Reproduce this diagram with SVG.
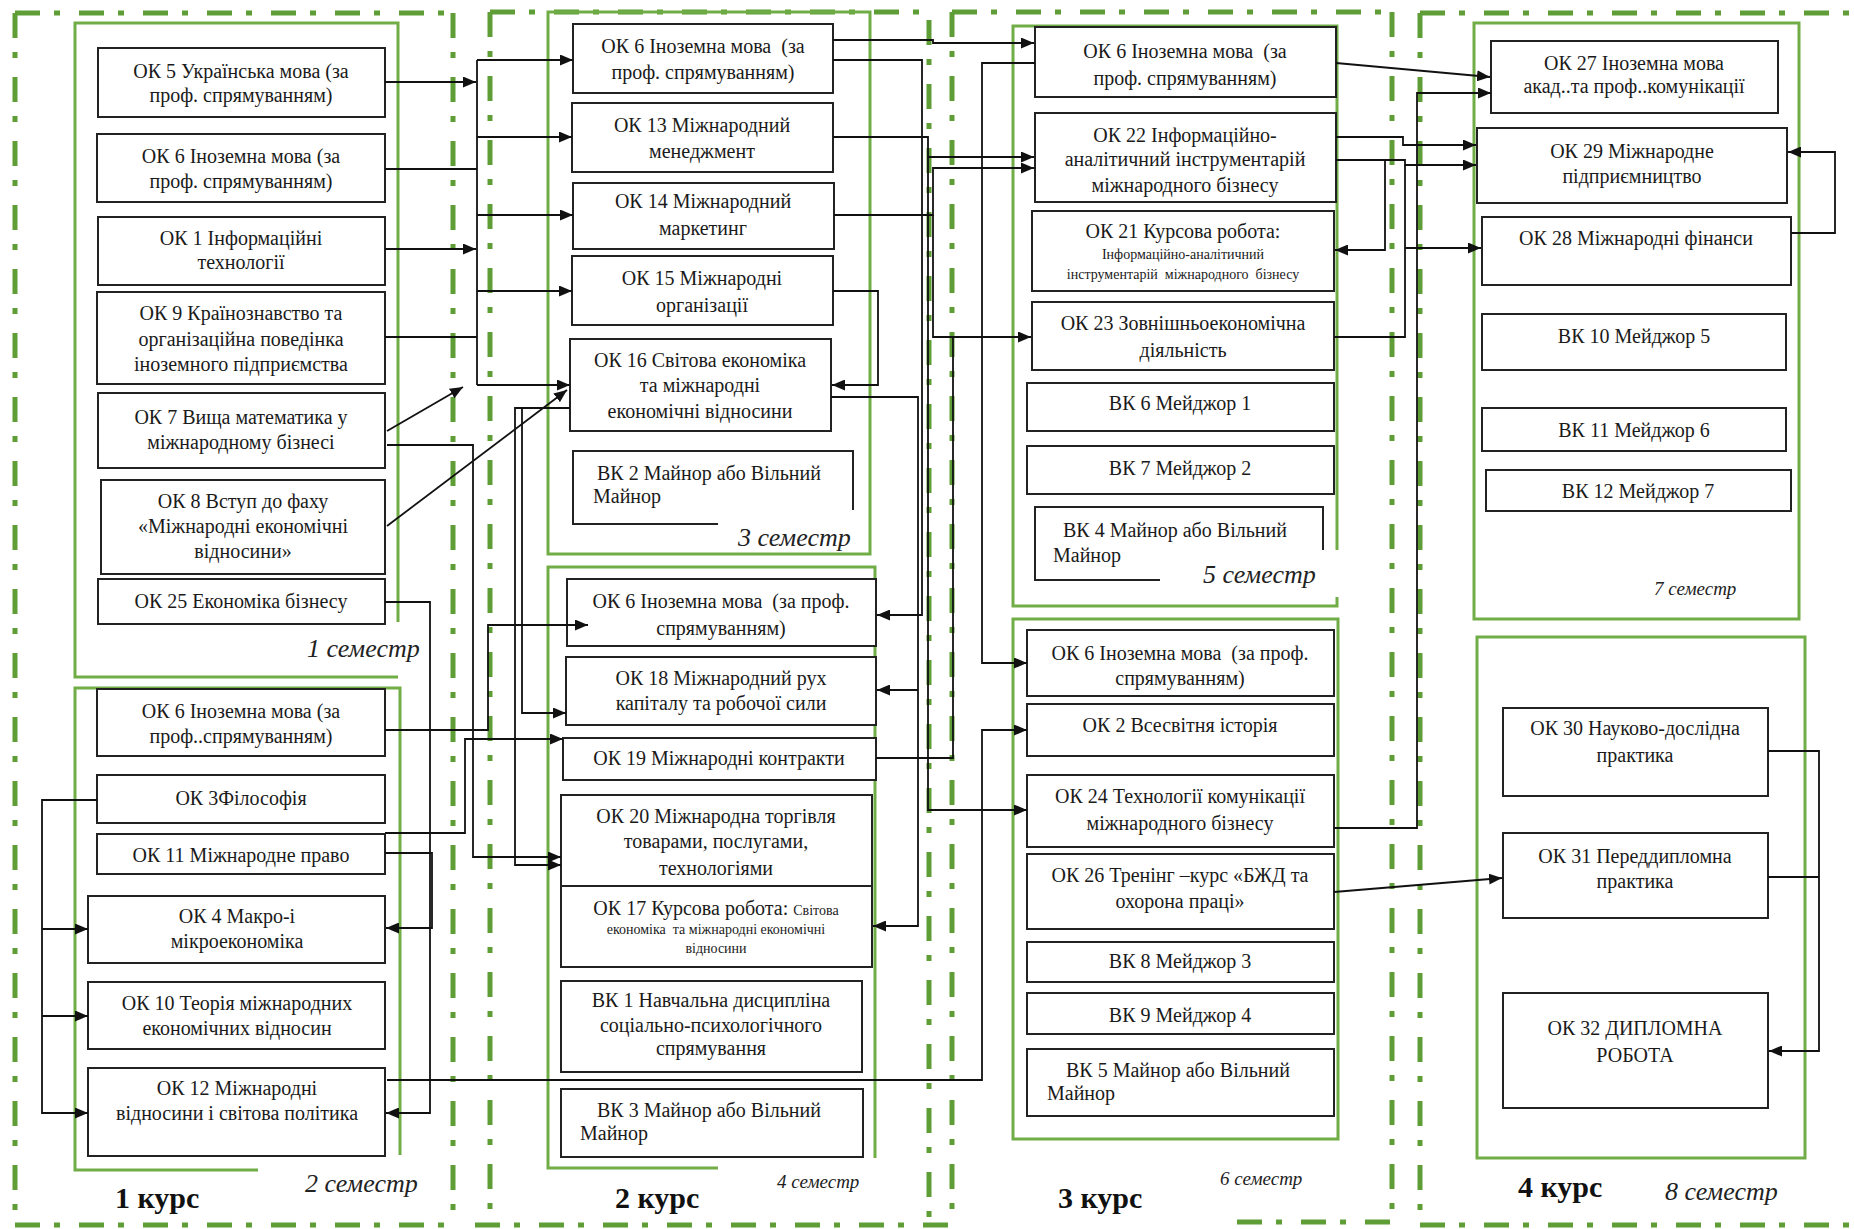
<svg xmlns="http://www.w3.org/2000/svg" width="1854" height="1229" viewBox="0 0 1854 1229">
<defs>
<style>
.dd{fill:none;stroke:#5f9e37;stroke-width:5;stroke-dasharray:25 14 6 19}
.sem{fill:none;stroke:#70ad47;stroke-width:3}
.n{fill:#fff;stroke:#222;stroke-width:2}
.np{fill:none;stroke:#222;stroke-width:2}
.t{font-family:"Liberation Serif","Times New Roman",serif;font-size:20px;fill:#1a1a1a;text-anchor:middle}
.ts{font-family:"Liberation Serif","Times New Roman",serif;font-size:20px;fill:#1a1a1a}
.sm{font-size:14px}
.lab{font-family:"Liberation Serif","Times New Roman",serif;font-style:italic;fill:#222}
.kurs{font-family:"Liberation Serif","Times New Roman",serif;font-weight:bold;font-size:30px;fill:#111}
.c{fill:none;stroke:#111;stroke-width:1.8}
.a{marker-end:url(#ah)}
</style>
<marker id="ah" viewBox="0 0 10 10" refX="10" refY="5" markerWidth="13" markerHeight="11" markerUnits="userSpaceOnUse" orient="auto" preserveAspectRatio="none"><path d="M0,0 L10,5 L0,10 z" fill="#111"/></marker>
</defs>
<rect width="1854" height="1229" fill="#fff"/>

<g id="courses">
<path class="dd" d="M15,13 H453 M15,13 V1225 M453,13 V1225 M15,1225 H460"/>
<path class="dd" d="M490,12 H928 M490,12 V1225 M929,20 V1225 M475,1225 H960"/>
<path class="dd" d="M952,12 H1392 M952,12 V1222 M1392,12 V1222 M1237,1222 H1392"/>
<path class="dd" d="M1420,13 H1854 M1420,13 V1225 M1420,1225 H1854"/>
</g>

<g id="semesters">
<path class="sem" d="M398,622 V23 H75 V677 H398"/>
<path class="sem" d="M400,1155 V688 H75 V1170 H258"/>
<rect class="sem" x="548" y="12" width="322" height="542"/>
<path class="sem" d="M875,1158 V567 H548 V1168 H718"/>
<path class="sem" d="M1337,550 V26 H1013 V606 H1337 V597"/>
<rect class="sem" x="1013" y="619" width="325" height="520"/>
<rect class="sem" x="1474" y="23" width="325" height="596"/>
<rect class="sem" x="1477" y="637" width="328" height="521"/>
</g>

<g id="labels">
<text class="lab" x="307" y="657" font-size="26">1 семестр</text>
<text class="lab" x="305" y="1192" font-size="26">2 семестр</text>
<text class="lab" x="738" y="546" font-size="26">3 семестр</text>
<text class="lab" x="777" y="1188" font-size="19">4 семестр</text>
<text class="lab" x="1203" y="583" font-size="26">5 семестр</text>
<text class="lab" x="1220" y="1185" font-size="19">6 семестр</text>
<text class="lab" x="1654" y="595" font-size="19">7 семестр</text>
<text class="lab" x="1665" y="1200" font-size="26">8 семестр</text>
<text class="kurs" x="115" y="1208">1 курс</text>
<text class="kurs" x="615" y="1208">2 курс</text>
<text class="kurs" x="1058" y="1208">3 курс</text>
<text class="kurs" x="1518" y="1197">4 курс</text>
</g>

<g id="ok5"><rect class="n" x="98" y="48" width="287" height="69"/><text class="t"><tspan x="241" y="78">ОК 5 Українська мова (за</tspan><tspan x="241" y="102">проф. спрямуванням)</tspan></text></g>
<g id="ok6-s1"><rect class="n" x="97" y="134" width="288" height="68"/><text class="t"><tspan x="241" y="163">ОК 6 Іноземна мова (за</tspan><tspan x="241" y="188">проф. спрямуванням)</tspan></text></g>
<g id="ok1"><rect class="n" x="98" y="217" width="287" height="68"/><text class="t"><tspan x="241" y="245">ОК 1 Інформаційні</tspan><tspan x="241" y="269">технології</tspan></text></g>
<g id="ok9"><rect class="n" x="97" y="292" width="288" height="92"/><text class="t"><tspan x="241" y="320">ОК 9 Країнознавство та</tspan><tspan x="241" y="346">організаційна поведінка</tspan><tspan x="241" y="371">іноземного підприємства</tspan></text></g>
<g id="ok7"><rect class="n" x="98" y="393" width="287" height="75"/><text class="t"><tspan x="241" y="424">ОК 7 Вища математика у</tspan><tspan x="241" y="449">міжнародному бізнесі</tspan></text></g>
<g id="ok8"><rect class="n" x="101" y="480" width="284" height="94"/><text class="t"><tspan x="243" y="508">ОК 8 Вступ до фаху</tspan><tspan x="243" y="533">«Міжнародні економічні</tspan><tspan x="243" y="558">відносини»</tspan></text></g>
<g id="ok25"><rect class="n" x="98" y="579" width="287" height="45"/><text class="t" x="241" y="608">ОК 25 Економіка бізнесу</text></g>

<g id="ok6-s2"><rect class="n" x="97" y="689" width="288" height="67"/><text class="t"><tspan x="241" y="718">ОК 6 Іноземна мова (за</tspan><tspan x="241" y="743">проф..спрямуванням)</tspan></text></g>
<g id="ok3"><rect class="n" x="97" y="775" width="288" height="48"/><text class="t" x="241" y="805">ОК 3Філософія</text></g>
<g id="ok11"><rect class="n" x="97" y="834" width="288" height="40"/><text class="t" x="241" y="862">ОК 11 Міжнародне право</text></g>
<g id="ok4"><rect class="n" x="88" y="896" width="297" height="67"/><text class="t"><tspan x="237" y="923">ОК 4 Макро-і</tspan><tspan x="237" y="948">мікроекономіка</tspan></text></g>
<g id="ok10"><rect class="n" x="88" y="982" width="297" height="67"/><text class="t"><tspan x="237" y="1010">ОК 10 Теорія міжнародних</tspan><tspan x="237" y="1035">економічних відносин</tspan></text></g>
<g id="ok12"><rect class="n" x="88" y="1068" width="297" height="88"/><text class="t"><tspan x="237" y="1095">ОК 12 Міжнародні</tspan><tspan x="237" y="1120">відносини і світова політика</tspan></text></g>

<g id="ok6-s3"><rect class="n" x="573" y="24" width="260" height="69"/><text class="t" xml:space="preserve"><tspan x="703" y="53">ОК 6 Іноземна мова  (за</tspan><tspan x="703" y="79">проф. спрямуванням)</tspan></text></g>
<g id="ok13"><rect class="n" x="572" y="103" width="261" height="69"/><text class="t"><tspan x="702" y="132">ОК 13 Міжнародний</tspan><tspan x="702" y="158">менеджмент</tspan></text></g>
<g id="ok14"><rect class="n" x="573" y="183" width="261" height="66"/><text class="t"><tspan x="703" y="208">ОК 14 Міжнародний</tspan><tspan x="703" y="235">маркетинг</tspan></text></g>
<g id="ok15"><rect class="n" x="572" y="256" width="261" height="69"/><text class="t"><tspan x="702" y="285">ОК 15 Міжнародні</tspan><tspan x="702" y="312">організації</tspan></text></g>
<g id="ok16"><rect class="n" x="570" y="339" width="261" height="92"/><text class="t"><tspan x="700" y="367">ОК 16 Світова економіка</tspan><tspan x="700" y="392">та міжнародні</tspan><tspan x="700" y="418">економічні відносини</tspan></text></g>
<g id="vk2"><path class="np" d="M718,524 H573 V451 H853 V510"/><text class="ts"><tspan x="597" y="480">ВК 2 Майнор або Вільний</tspan><tspan x="593" y="503">Майнор</tspan></text></g>

<g id="ok6-s4"><rect class="n" x="567" y="579" width="309" height="67"/><text class="t" xml:space="preserve"><tspan x="721" y="608">ОК 6 Іноземна мова  (за проф.</tspan><tspan x="721" y="635">спрямуванням)</tspan></text></g>
<g id="ok18"><rect class="n" x="566" y="657" width="310" height="68"/><text class="t"><tspan x="721" y="685">ОК 18 Міжнародний рух</tspan><tspan x="721" y="710">капіталу та робочої сили</tspan></text></g>
<g id="ok19"><rect class="n" x="563" y="738" width="313" height="42"/><text class="t" x="719" y="765">ОК 19 Міжнародні контракти</text></g>
<g id="ok20"><rect class="n" x="561" y="795" width="311" height="91"/><text class="t"><tspan x="716" y="823">ОК 20 Міжнародна торгівля</tspan><tspan x="716" y="848">товарами, послугами,</tspan><tspan x="716" y="875">технологіями</tspan></text></g>
<g id="ok17"><rect class="n" x="561" y="886" width="311" height="81"/><text class="t" xml:space="preserve"><tspan x="716" y="915">ОК 17 Курсова робота: <tspan class="sm">Світова</tspan></tspan><tspan class="sm" x="716" y="934">економіка  та міжнародні економічні</tspan><tspan class="sm" x="716" y="953">відносини</tspan></text></g>
<g id="vk1"><rect class="n" x="561" y="981" width="301" height="91"/><text class="t"><tspan x="711" y="1007">ВК 1 Навчальна дисципліна</tspan><tspan x="711" y="1032">соціально-психологічного</tspan><tspan x="711" y="1055">спрямування</tspan></text></g>
<g id="vk3"><rect class="n" x="561" y="1089" width="302" height="68"/><text class="ts"><tspan x="597" y="1117">ВК 3 Майнор або Вільний</tspan><tspan x="580" y="1140">Майнор</tspan></text></g>

<g id="ok6-s5"><rect class="n" x="1035" y="27" width="301" height="70"/><text class="t" xml:space="preserve"><tspan x="1185" y="58">ОК 6 Іноземна мова  (за</tspan><tspan x="1185" y="85">проф. спрямуванням)</tspan></text></g>
<g id="ok22"><rect class="n" x="1035" y="113" width="301" height="89"/><text class="t"><tspan x="1185" y="142">ОК 22 Інформаційно-</tspan><tspan x="1185" y="166">аналітичний інструментарій</tspan><tspan x="1185" y="192">міжнародного бізнесу</tspan></text></g>
<g id="ok21"><rect class="n" x="1032" y="211" width="302" height="80"/><text class="t" xml:space="preserve"><tspan x="1183" y="238">ОК 21 Курсова робота:</tspan><tspan class="sm" x="1183" y="259">Інформаційно-аналітичний</tspan><tspan class="sm" x="1183" y="279">інструментарій  міжнародного  бізнесу</tspan></text></g>
<g id="ok23"><rect class="n" x="1032" y="302" width="302" height="68"/><text class="t"><tspan x="1183" y="330">ОК 23 Зовнішньоекономічна</tspan><tspan x="1183" y="357">діяльність</tspan></text></g>
<g id="vk6"><rect class="n" x="1027" y="383" width="307" height="48"/><text class="t" x="1180" y="410">ВК 6 Мейджор 1</text></g>
<g id="vk7"><rect class="n" x="1027" y="446" width="307" height="48"/><text class="t" x="1180" y="475">ВК 7 Мейджор 2</text></g>
<g id="vk4"><path class="np" d="M1160,580 H1035 V507 H1323 V550"/><text class="ts"><tspan x="1063" y="537">ВК 4 Майнор або Вільний</tspan><tspan x="1053" y="562">Майнор</tspan></text></g>

<g id="ok6-s6"><rect class="n" x="1027" y="630" width="307" height="66"/><text class="t" xml:space="preserve"><tspan x="1180" y="660">ОК 6 Іноземна мова  (за проф.</tspan><tspan x="1180" y="685">спрямуванням)</tspan></text></g>
<g id="ok2"><rect class="n" x="1027" y="704" width="307" height="52"/><text class="t" x="1180" y="732">ОК 2 Всесвітня історія</text></g>
<g id="ok24"><rect class="n" x="1027" y="775" width="307" height="72"/><text class="t"><tspan x="1180" y="803">ОК 24 Технології комунікації</tspan><tspan x="1180" y="830">міжнародного бізнесу</tspan></text></g>
<g id="ok26"><rect class="n" x="1027" y="854" width="307" height="75"/><text class="t"><tspan x="1180" y="882">ОК 26 Тренінг –курс «БЖД та</tspan><tspan x="1180" y="908">охорона праці»</tspan></text></g>
<g id="vk8"><rect class="n" x="1027" y="942" width="307" height="40"/><text class="t" x="1180" y="968">ВК 8 Мейджор 3</text></g>
<g id="vk9"><rect class="n" x="1027" y="993" width="307" height="41"/><text class="t" x="1180" y="1022">ВК 9 Мейджор 4</text></g>
<g id="vk5"><rect class="n" x="1027" y="1049" width="307" height="67"/><text class="ts"><tspan x="1066" y="1077">ВК 5 Майнор або Вільний</tspan><tspan x="1047" y="1100">Майнор</tspan></text></g>

<g id="ok27"><rect class="n" x="1491" y="41" width="287" height="72"/><text class="t"><tspan x="1634" y="70">ОК 27 Іноземна мова</tspan><tspan x="1634" y="93">акад..та проф..комунікації</tspan></text></g>
<g id="ok29"><rect class="n" x="1477" y="128" width="310" height="75"/><text class="t"><tspan x="1632" y="158">ОК 29 Міжнародне</tspan><tspan x="1632" y="183">підприємництво</tspan></text></g>
<g id="ok28"><rect class="n" x="1482" y="217" width="309" height="68"/><text class="t" x="1636" y="245">ОК 28 Міжнародні фінанси</text></g>
<g id="vk10"><rect class="n" x="1482" y="314" width="304" height="56"/><text class="t" x="1634" y="343">ВК 10 Мейджор 5</text></g>
<g id="vk11"><rect class="n" x="1482" y="408" width="304" height="43"/><text class="t" x="1634" y="437">ВК 11 Мейджор 6</text></g>
<g id="vk12"><rect class="n" x="1486" y="470" width="305" height="41"/><text class="t" x="1638" y="498">ВК 12 Мейджор 7</text></g>
<g id="ok30"><rect class="n" x="1503" y="708" width="265" height="88"/><text class="t"><tspan x="1635" y="735">ОК 30 Науково-дослідна</tspan><tspan x="1635" y="762">практика</tspan></text></g>
<g id="ok31"><rect class="n" x="1503" y="833" width="265" height="85"/><text class="t"><tspan x="1635" y="863">ОК 31 Переддипломна</tspan><tspan x="1635" y="888">практика</tspan></text></g>
<g id="ok32"><rect class="n" x="1503" y="993" width="265" height="115"/><text class="t" font-size="22"><tspan x="1635" y="1035">ОК 32 ДИПЛОМНА</tspan><tspan x="1635" y="1062">РОБОТА</tspan></text></g>

<g id="connectors">
<path class="c a" d="M385,82 H476"/>
<path class="c" d="M385,169 H477"/>
<path class="c a" d="M385,249 H476"/>
<path class="c" d="M385,337 H477"/>
<path class="c a" d="M387,431 L463,387"/>
<path class="c" d="M477,60 V385"/>
<path class="c a" d="M477,60 H573"/>
<path class="c a" d="M477,137 H572"/>
<path class="c a" d="M477,215 H573"/>
<path class="c a" d="M477,291 H572"/>
<path class="c a" d="M477,385 H570"/>
<path class="c a" d="M387,526 L567,390"/>
<path class="c a" d="M387,445 H473 V857 H561"/>
<path class="c a" d="M570,408 H515 V865 H561"/>
<path class="c a" d="M522,408 V713 H566"/>
<path class="c a" d="M385,730 H488 V625 H588"/>
<path class="c a" d="M385,833 H465 V739 H563"/>
<path class="c a" d="M385,602 H430 V1113 H386"/>
<path class="c a" d="M385,853 H432 V928 H386"/>
<path class="c a" d="M97,800 H42 V1113 H88"/>
<path class="c a" d="M42,929 H88"/>
<path class="c a" d="M42,1016 H88"/>
<path class="c a" d="M387,1080 H982 V730 H1027"/>
<path class="c a" d="M833,40 H933 V43 H1034"/>
<path class="c a" d="M833,60 H922 V615 H877"/>
<path class="c a" d="M831,397 H918 V926 H873"/>
<path class="c a" d="M918,690 H877"/>
<path class="c a" d="M833,291 H878 V385 H832"/>
<path class="c a" d="M833,137 H928 V157 H1034"/>
<path class="c a" d="M834,215 H933 V168 H1034"/>
<path class="c a" d="M928,157 V810 H1027"/>
<path class="c a" d="M933,215 V337 H1031"/>
<path class="c" d="M876,758 H953 V337"/>
<path class="c a" d="M1035,63 H982 V663 H1027"/>
<path class="c a" d="M1336,63 L1490,77"/>
<path class="c a" d="M1336,137 H1403 V145 H1476"/>
<path class="c a" d="M1336,160 H1405 V165 H1476"/>
<path class="c a" d="M1385,160 V250 H1335"/>
<path class="c" d="M1334,337 H1405 V165"/>
<path class="c a" d="M1405,248 H1481"/>
<path class="c a" d="M1334,828 H1417 V93 H1491"/>
<path class="c a" d="M1791,233 H1835 V152 H1788"/>
<path class="c a" d="M1334,892 L1502,878"/>
<path class="c a" d="M1768,751 H1819 V1051 H1769"/>
<path class="c" d="M1768,877 H1819"/>
</g>
</svg>
